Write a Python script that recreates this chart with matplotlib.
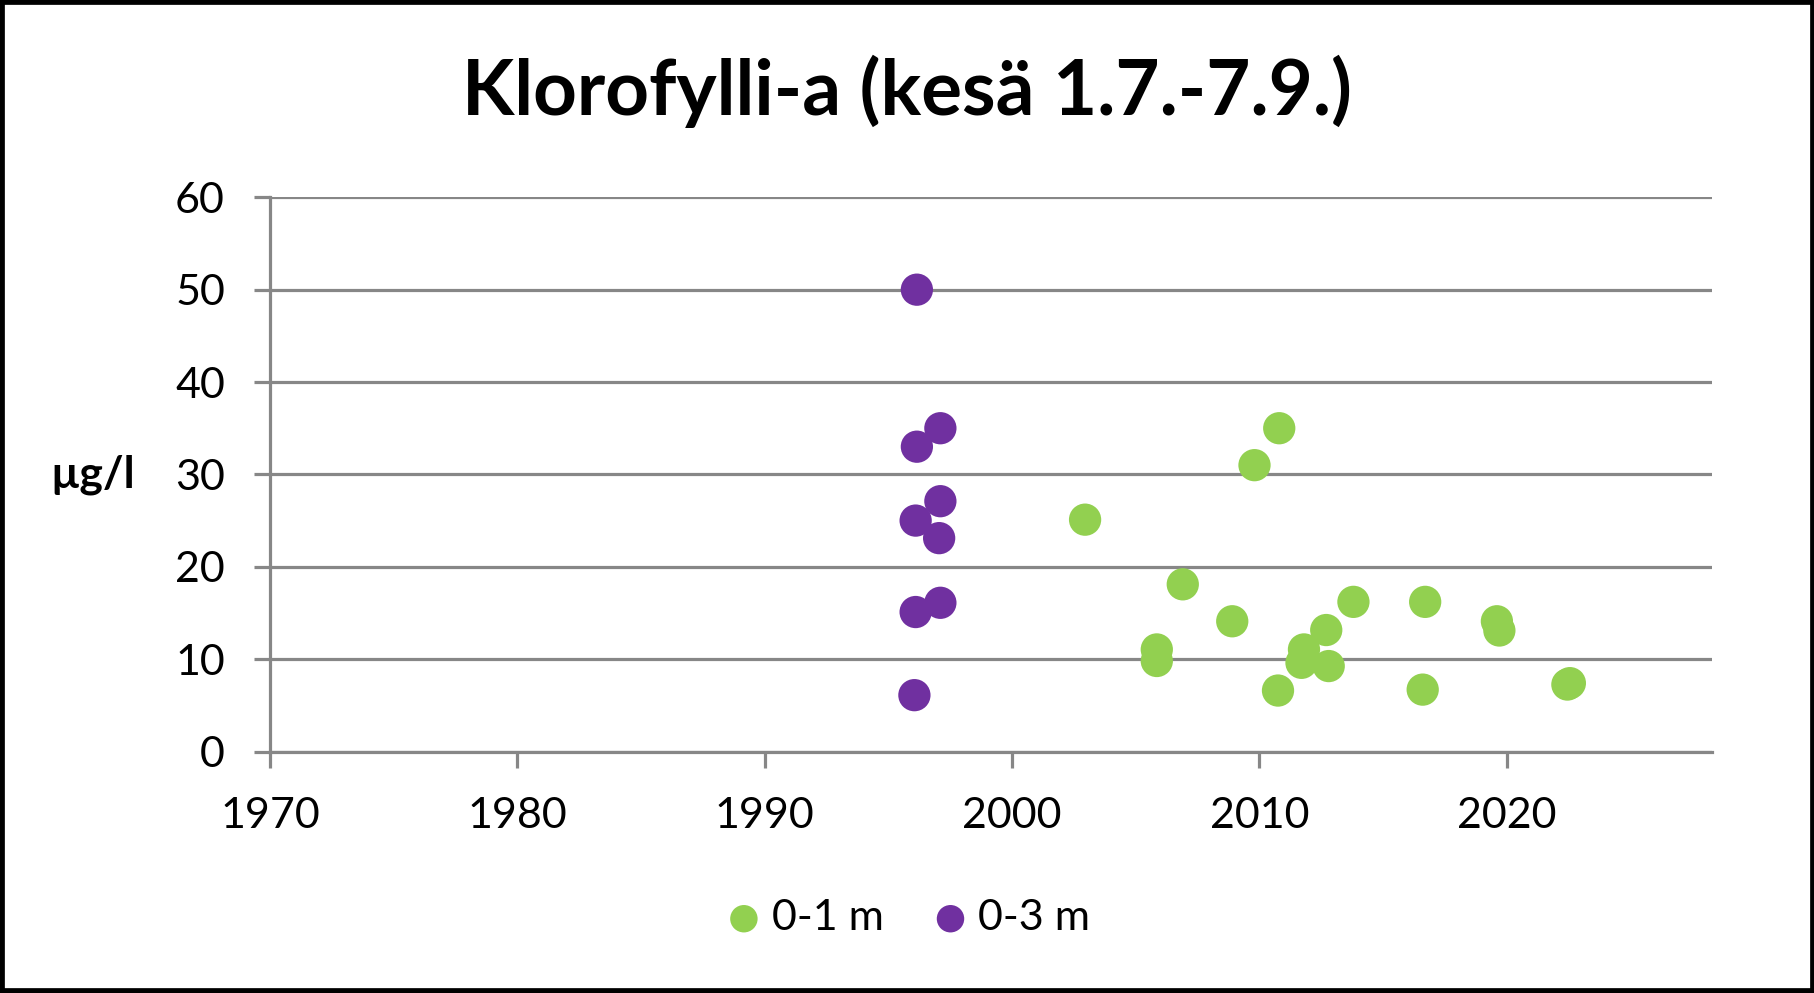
import matplotlib
matplotlib.use("Agg")
import matplotlib.pyplot as plt
from matplotlib.patches import Rectangle

plt.rcParams['font.family'] = ['Lato', 'DejaVu Sans']

# 0-1 m samples (year, ug/l)
years_01 = [2002.95, 2005.85, 2005.85, 2006.9, 2008.9, 2009.8, 2010.8, 2010.75,
            2011.8, 2011.7, 2012.7, 2012.8, 2013.8, 2016.7, 2016.6, 2019.6,
            2019.7, 2022.45, 2022.55]
chl_01 = [25.1, 11.05, 9.8, 18.1, 14.1, 31.0, 35.0, 6.6,
          11.05, 9.6, 13.15, 9.25, 16.2, 16.2, 6.7, 14.1,
          13.1, 7.25, 7.4]

# 0-3 m samples
years_03 = [1996.15, 1997.1, 1996.15, 1997.1, 1996.1, 1997.05, 1997.1, 1996.1, 1996.05]
chl_03 = [50.0, 35.0, 33.0, 27.1, 25.0, 23.1, 16.1, 15.1, 6.1]

xticks = [1970, 1980, 1990, 2000, 2010, 2020]
yticks = [0, 10, 20, 30, 40, 50, 60]

green = '#92D050'
purple = '#7030A0'
grid_col = '#878787'

fig = plt.figure(figsize=(18.15, 9.93), dpi=100)
ax = fig.add_axes([0.1488, 0.2432, 0.7945, 0.5581])

ax.scatter(years_01, chl_01, s=540, color=green, edgecolors='none', label='0-1 m', zorder=3)
ax.scatter(years_03, chl_03, s=540, color=purple, edgecolors='none', label='0-3 m', zorder=3)

ax.set_xlim(1970, 2028.3)
ax.set_ylim(0, 60)
ax.set_xticks(xticks)
ax.set_yticks(yticks)
ax.yaxis.grid(True, color=grid_col, linewidth=2.3)
ax.set_axisbelow(True)

for side in ['top', 'right']:
    ax.spines[side].set_visible(False)
for side in ['left', 'bottom']:
    ax.spines[side].set_color(grid_col)
    ax.spines[side].set_linewidth(2.3)

ax.tick_params(axis='both', direction='out', length=11.5, width=2.3, color=grid_col,
               labelsize=31, pad=21)

ax.text(-0.123, 0.5, 'µg/l', transform=ax.transAxes, fontsize=32, fontweight='bold',
        ha='center', va='center')

fig.text(0.5, 0.908, 'Klorofylli-a (kesä 1.7.-7.9.)', fontsize=55, fontweight='bold',
         ha='center', va='center')

fig.legend(loc='center', bbox_to_anchor=(0.5, 0.0755), ncol=2, frameon=False,
           fontsize=31, markerscale=0.85, handlelength=0.9, handletextpad=0.2,
           columnspacing=1.1)

fig.patches.append(Rectangle((0, 0), 1, 1, transform=fig.transFigure, fill=False,
                             edgecolor='black', linewidth=7, clip_on=False))

fig.savefig('out.png', dpi=100)
